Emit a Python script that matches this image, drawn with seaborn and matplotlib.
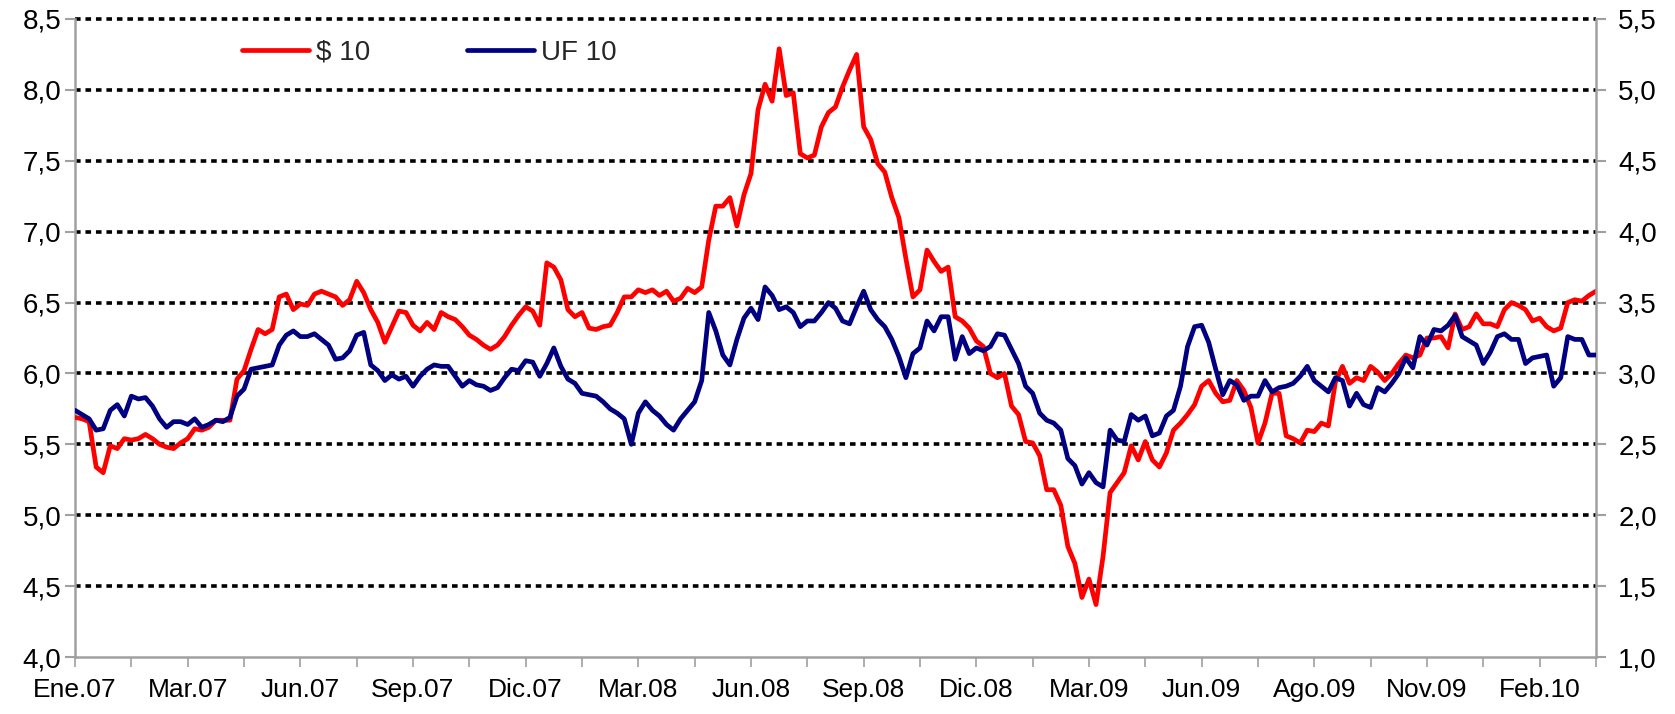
import numpy as np
import matplotlib
matplotlib.use("Agg")
import matplotlib.pyplot as plt
from matplotlib.lines import Line2D
from matplotlib.ticker import FuncFormatter
import seaborn as sns

# Tasas a 10 años, en pesos y en UF (datos diarios, ~1 cada 4 días hábiles)
peso10 = [
    5.69, 5.68, 5.66, 5.34, 5.30, 5.49, 5.47, 5.54, 5.53, 5.54,
    5.57, 5.54, 5.50, 5.48, 5.47, 5.51, 5.54, 5.61, 5.60, 5.62,
    5.67, 5.67, 5.67, 5.96, 6.02, 6.17, 6.31, 6.28, 6.31, 6.54,
    6.56, 6.45, 6.49, 6.48, 6.56, 6.58, 6.56, 6.54,
    6.48, 6.52, 6.65, 6.57, 6.45, 6.36, 6.22, 6.33, 6.44, 6.43,
    6.34, 6.30, 6.36, 6.31, 6.43, 6.40, 6.38, 6.33, 6.27, 6.24,
    6.20, 6.17, 6.20, 6.26, 6.34, 6.41, 6.47, 6.44, 6.34, 6.78,
    6.75, 6.66, 6.45, 6.40, 6.43, 6.32, 6.31,
    6.33, 6.34, 6.43, 6.54, 6.54, 6.59, 6.57, 6.59, 6.55, 6.58,
    6.51, 6.53, 6.60, 6.57, 6.61, 6.94, 7.18, 7.18, 7.24, 7.04,
    7.26, 7.41, 7.86, 8.04, 7.92, 8.29, 7.96, 7.98, 7.55, 7.52,
    7.54, 7.74, 7.84, 7.88, 8.02, 8.14, 8.25, 7.74, 7.65, 7.48,
    7.42, 7.24, 7.10, 6.81, 6.54, 6.59, 6.87, 6.79, 6.72, 6.75,
    6.40, 6.37, 6.32, 6.23, 6.19, 6.00, 5.97, 6.00, 5.77, 5.71,
    5.52, 5.51, 5.42, 5.18, 5.18, 5.07, 4.78, 4.66, 4.42, 4.55,
    4.37, 4.71, 5.16, 5.23, 5.30, 5.49,
    5.39, 5.52, 5.39, 5.34, 5.44, 5.60, 5.65, 5.71, 5.78, 5.91,
    5.95, 5.86, 5.80, 5.81, 5.95, 5.88, 5.76, 5.51, 5.65, 5.86,
    5.86, 5.56, 5.54, 5.51, 5.60, 5.59, 5.65, 5.63, 5.94, 6.05,
    5.93, 5.97, 5.95, 6.05, 6.01,
    5.95, 6.00, 6.07, 6.13, 6.11, 6.13, 6.25, 6.25, 6.26, 6.18,
    6.42, 6.31, 6.33, 6.42, 6.35, 6.35, 6.33, 6.45, 6.50, 6.48,
    6.45, 6.37, 6.39, 6.33, 6.30, 6.32, 6.50, 6.52, 6.51, 6.55, 6.58,
]

uf10 = [
    2.74, 2.71, 2.68, 2.60, 2.61, 2.74, 2.78, 2.70, 2.84, 2.82,
    2.83, 2.77, 2.68, 2.62, 2.66, 2.66, 2.64, 2.68, 2.62, 2.64,
    2.67, 2.66, 2.69, 2.84, 2.89, 3.03, 3.04, 3.05, 3.06, 3.20,
    3.27, 3.30, 3.26, 3.26, 3.28, 3.24, 3.20, 3.10,
    3.11, 3.16, 3.27, 3.29, 3.06, 3.02, 2.95, 2.99, 2.96, 2.98,
    2.91, 2.98, 3.03, 3.06, 3.05, 3.05, 2.98, 2.91, 2.95, 2.92,
    2.91, 2.88, 2.90, 2.97, 3.03, 3.02, 3.09, 3.08, 2.98, 3.07,
    3.18, 3.05, 2.96, 2.93, 2.86, 2.85, 2.84,
    2.80, 2.75, 2.72, 2.68, 2.50, 2.72, 2.80, 2.74, 2.70, 2.64,
    2.60, 2.68, 2.74, 2.80, 2.95,
    3.43, 3.30, 3.13, 3.06, 3.24, 3.39, 3.46, 3.38, 3.61, 3.55,
    3.45, 3.47, 3.43, 3.33, 3.37, 3.37, 3.43, 3.50, 3.46, 3.37,
    3.35, 3.47, 3.58, 3.45, 3.38,
    3.33, 3.24, 3.12, 2.97, 3.14, 3.18, 3.37, 3.30, 3.40, 3.40,
    3.10, 3.26, 3.14, 3.18, 3.16, 3.19, 3.28, 3.27, 3.17, 3.07,
    2.91, 2.86, 2.72, 2.67, 2.65, 2.60, 2.40, 2.35, 2.22, 2.30,
    2.23, 2.20, 2.60, 2.53, 2.52, 2.71,
    2.67, 2.70, 2.56, 2.58, 2.70, 2.74, 2.91, 3.19, 3.33, 3.34,
    3.22, 3.03, 2.85, 2.95, 2.92, 2.81, 2.84, 2.84, 2.95, 2.87,
    2.90, 2.91, 2.93, 2.98, 3.05, 2.95, 2.91, 2.87, 2.97, 2.95,
    2.77, 2.86, 2.78, 2.76, 2.90,
    2.87, 2.93, 3.00, 3.11, 3.04, 3.26, 3.20, 3.31, 3.30, 3.34,
    3.41, 3.26, 3.23, 3.20, 3.07, 3.15, 3.26, 3.28, 3.24, 3.24,
    3.07, 3.11, 3.12, 3.13, 2.91, 2.97, 3.26, 3.24, 3.24, 3.13, 3.13,
]

x_labels = ["Ene.07", "Mar.07", "Jun.07", "Sep.07", "Dic.07", "Mar.08", "Jun.08",
            "Sep.08", "Dic.08", "Mar.09", "Jun.09", "Ago.09", "Nov.09", "Feb.10"]

sns.set_style("white")
plt.rcParams['font.family'] = ['Liberation Sans', 'DejaVu Sans']

RED = '#FF0000'
BLUE = '#000080'
GRAY = '#A0A0A0'

fig = plt.figure(figsize=(16.75, 7.14), dpi=100)
ax = fig.add_axes([0.0448, 0.0798, 0.9080, 0.8936])

# grid dotted lines
for yv in np.arange(4.5, 8.51, 0.5):
    ax.axhline(yv, color='black', lw=2.6, ls=(0, (1.55, 1.35)), zorder=1, clip_on=False)

sns.lineplot(x=np.arange(len(peso10)), y=peso10, ax=ax, color=RED, lw=3.4, legend=False, zorder=3)

ax2 = ax.twinx()
sns.lineplot(x=np.arange(len(uf10)), y=uf10, ax=ax2, color=BLUE, lw=3.4, legend=False, zorder=3)

ax.set_xlim(0, 216)
ax.set_ylim(4.0, 8.5)
ax2.set_ylim(1.0, 5.5)

ticks = np.arange(0, 217, 8)
ax.set_xticks(ticks)
ax.set_xticklabels([x_labels[t // 16] if t % 16 == 0 and t // 16 < len(x_labels) else '' for t in ticks])
ax.set_yticks(np.arange(4.0, 8.51, 0.5))
ax2.set_yticks(np.arange(1.0, 5.51, 0.5))

fmt = FuncFormatter(lambda v, p: f"{v:.1f}".replace('.', ','))
ax.yaxis.set_major_formatter(fmt)
ax2.yaxis.set_major_formatter(fmt)
ax.set_xlabel('')
ax.set_ylabel('')
ax2.set_ylabel('')

for a in (ax, ax2):
    for s in a.spines.values():
        s.set_visible(False)
ax.spines['left'].set_visible(True)
ax.spines['bottom'].set_visible(True)
ax2.spines['right'].set_visible(True)
for s in (ax.spines['left'], ax.spines['bottom'], ax2.spines['right']):
    s.set_color(GRAY)
    s.set_linewidth(1.8)

ax.tick_params(axis='y', left=True, direction='out', length=7, width=1.5, color=GRAY,
               labelsize=20, pad=3, labelcolor='black')
ax.tick_params(axis='x', bottom=True, direction='out', length=7, width=1.2, color=GRAY,
               labelsize=19, pad=8, labelcolor='black')
ax2.tick_params(axis='y', right=True, direction='out', length=7, width=1.5, color=GRAY,
                labelsize=20, pad=9, labelcolor='black')

handles = [Line2D([], [], color=RED, lw=3.4), Line2D([], [], color=BLUE, lw=3.4)]
ax2.legend(handles, ['$ 10', 'UF 10'], loc='center left', bbox_to_anchor=(0.110, 0.947),
           ncol=2, frameon=False, fontsize=20, handlelength=2.4, handletextpad=0.25,
           columnspacing=3.5, borderpad=0, borderaxespad=0)

fig.savefig("out.png", dpi=100)
